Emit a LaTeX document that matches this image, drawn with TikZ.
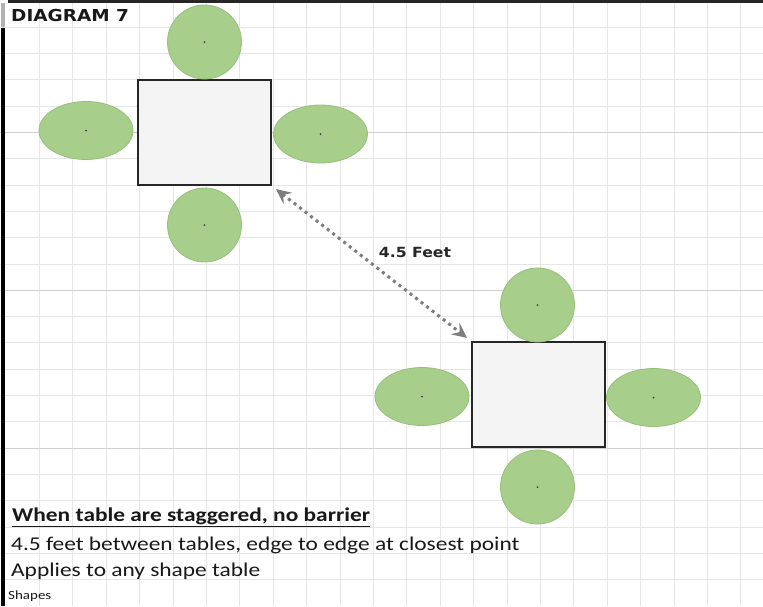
\documentclass[tikz,border=0pt]{standalone}
\usepackage{fontspec}
\setmainfont{Carlito}
\newfontfamily\bodyfont[FakeStretch=1.2]{Carlito}
\newfontfamily\headfont[FakeStretch=1.12]{DejaVu Sans}
\usetikzlibrary{shapes.geometric,arrows.meta}
\definecolor{chairgreen}{RGB}{167,206,139}
\definecolor{chairedge}{RGB}{150,192,122}
\definecolor{gridgray}{RGB}{230,230,230}
\definecolor{griddark}{RGB}{208,208,208}
\definecolor{tablefill}{RGB}{244,244,244}
\definecolor{arrowgray}{RGB}{125,125,125}
\begin{document}
\begin{tikzpicture}[x=1pt,y=-1pt,
  tablebox/.style={draw=black!85, line width=2pt, fill=tablefill, minimum width=133pt, minimum height=105pt, inner sep=0pt},
  chairround/.style={circle, fill=chairgreen, draw=chairedge, line width=0.8pt, minimum size=74pt, inner sep=0pt},
  chairoval/.style={ellipse, fill=chairgreen, draw=chairedge, line width=0.8pt, minimum width=94pt, minimum height=58pt, inner sep=0pt},
  gridline/.style={draw=gridgray, line width=0.9pt},
  gridstrong/.style={draw=griddark, line width=1.1pt},
  centerdot/.style={fill=black!75},
  bodytext/.style={anchor=base west, inner sep=0pt, font=\bodyfont\fontsize{19.5}{22}\selectfont, text=black!90},
  gap/.style={arrowgray, line width=3pt, dash pattern=on 3pt off 4pt,
    {Stealth[length=15pt,width=14pt,inset=5.5pt]}-{Stealth[length=15pt,width=14pt,inset=5.5pt]},
    shorten <=5pt, shorten >=5pt}
]
\useasboundingbox (0,0) rectangle (763,606);
\fill[white] (0,0) rectangle (763,606);
% spreadsheet grid
\foreach \k in {0,...,21} \draw[gridline] ({39.5+33.4*\k},0) -- ({39.5+33.4*\k},606);
\foreach \k in {1,...,22} \draw[gridline] (0,{1+26.3*\k}) -- (763,{1+26.3*\k});
\foreach \k in {5,11,17} \draw[gridstrong] (0,{1+26.3*\k}) -- (763,{1+26.3*\k});
% frame edges
\fill[black!85] (8,0) rectangle (763,2.5);
\fill[gray!60] (1,3) rectangle (4.5,27);
\fill[black] (1,28) rectangle (4.5,606);

% table 1 and chairs
\node[tablebox] (t1) at (204.5,132.5) {};
\node[chairround] (t1n) at (204.5,42) {};
\node[chairround] (t1s) at (204.5,225) {};
\node[chairoval] (t1w) at (86,130.5) {};
\node[chairoval] (t1e) at (320.5,134) {};

% table 2 and chairs
\node[tablebox] (t2) at (538.5,394.5) {};
\node[chairround] (t2n) at (537.5,305) {};
\node[chairround] (t2s) at (537.5,487) {};
\node[chairoval] (t2w) at (422,396.5) {};
\node[chairoval] (t2e) at (653.5,397.5) {};

\foreach \c in {t1n,t1s,t1w,t1e,t2n,t2s,t2w,t2e} \fill[centerdot] (\c.center) circle (1pt);

% distance
\draw[gap] (t1.south east) -- (t2.north west);
\node[font=\headfont\bfseries\fontsize{14}{16}\selectfont, text=black!85, inner sep=0pt] (lbl) at (415,252.5) {4.5 Feet};

% texts
\node[anchor=base west, inner sep=0pt, font=\headfont\bfseries\fontsize{16.5}{18}\selectfont, text=black!90] (title) at (11,21.5) {DIAGRAM 7};
\node[bodytext, font=\bodyfont\bfseries\fontsize{19.5}{22}\selectfont] (line1) at (12,521) {\underline{When table are staggered, no barrier}};
\node[bodytext] (line2) at (11,550) {4.5 feet between tables, edge to edge at closest point};
\node[bodytext, font=\bodyfont\fontsize{19.5}{22}\selectfont] (line3) at (11,576) {Applies to any shape table};
\node[bodytext, font=\bodyfont\fontsize{12.5}{14}\selectfont] (line4) at (8,599) {Shapes};
\end{tikzpicture}
\end{document}
